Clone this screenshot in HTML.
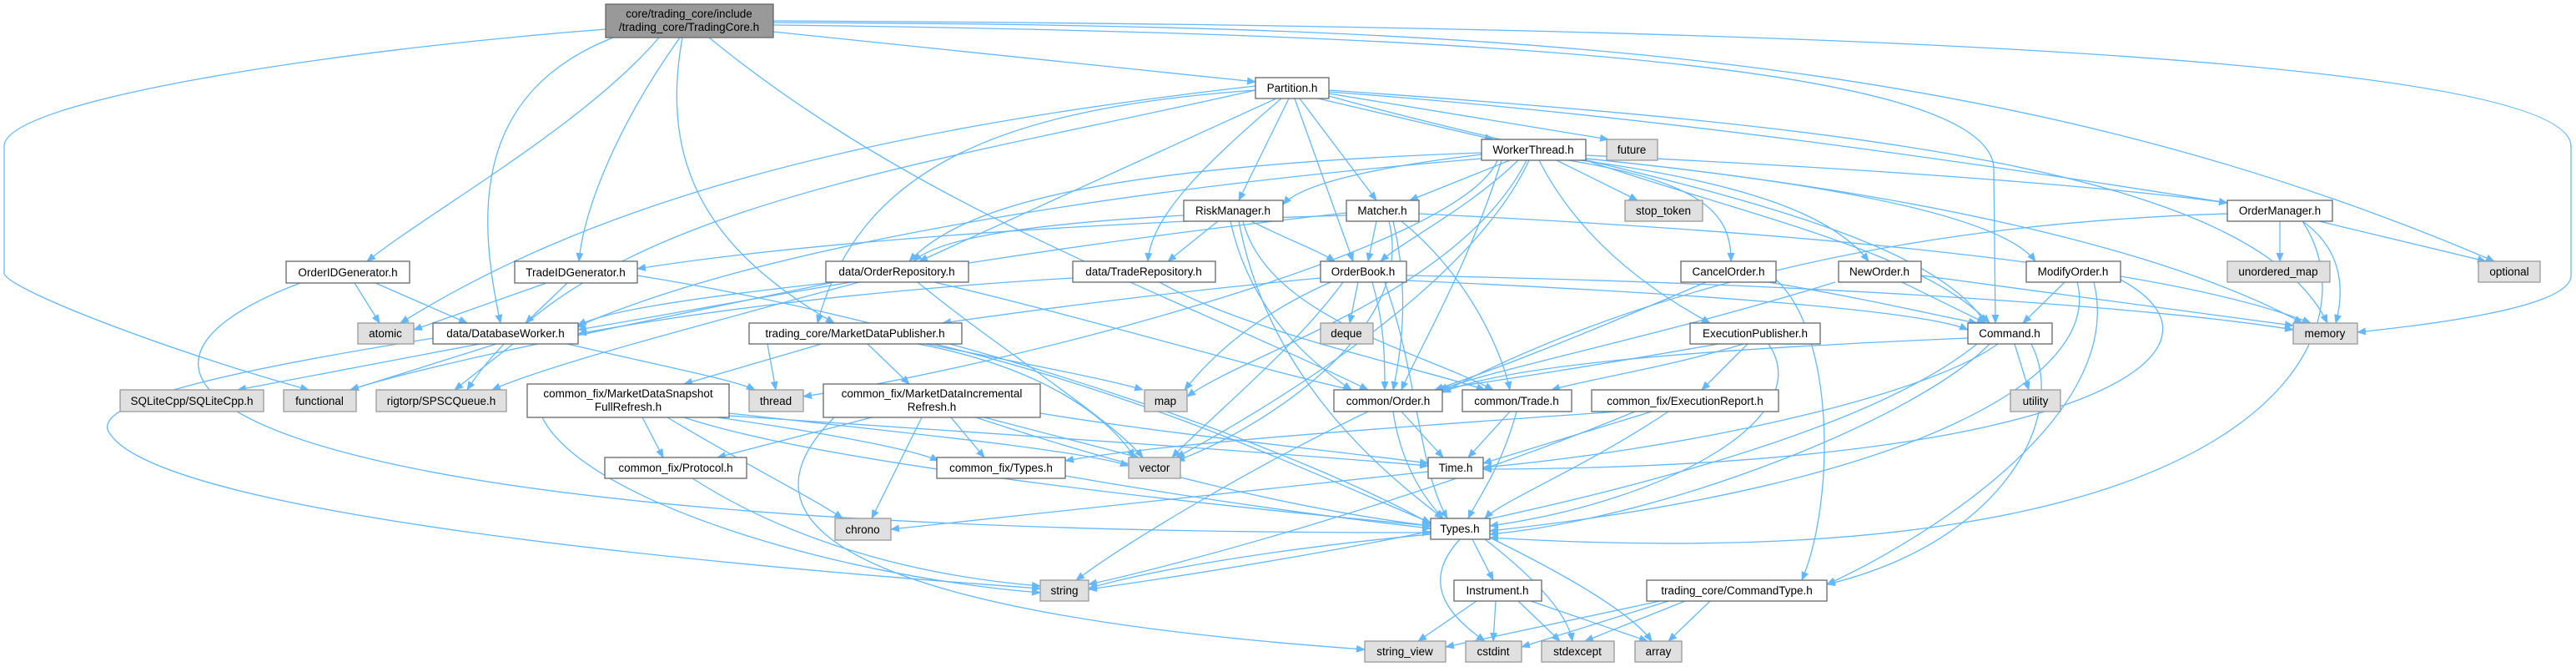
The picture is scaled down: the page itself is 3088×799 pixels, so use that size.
<!DOCTYPE html>
<html><head><meta charset="utf-8"><style>
html,body{margin:0;padding:0;background:#fff;}
svg{display:block;}
text{font-family:"Liberation Sans",sans-serif;font-size:13.5px;fill:#000;}
.e{fill:none;stroke:#63b8ff;stroke-width:1.3;}
.n{fill:#fff;stroke:#666;stroke-width:1.3;}
.g{fill:#e0e0e0;stroke:#999;stroke-width:1.3;}
.t{fill:#999;stroke:#666;stroke-width:1.3;}
</style></head><body>
<svg width="3088" height="799" viewBox="0 0 3088 799" xmlns="http://www.w3.org/2000/svg">
<defs><marker id="a" markerWidth="11" markerHeight="9" refX="10" refY="4.5" orient="auto" markerUnits="userSpaceOnUse"><path d="M0,0 L11,4.5 L0,9 z" fill="#63b8ff"/></marker></defs>
<g class="e" marker-end="url(#a)">
<path d="M726 35 C400 60 5 120 5 175 L5 327 C5 345 200 420 370 467"/>
<path d="M790 45 C700 150 520 250 440 313"/>
<path d="M735 45 C570 110 570 250 600 387"/>
<path d="M815 45 C740 150 700 250 694 313"/>
<path d="M818 45 C790 200 850 300 1000 387"/>
<path d="M850 45 C1100 250 1400 350 1640 467"/>
<path d="M927 38 L1505 98"/>
<path d="M927 30 C1800 40 2380 80 2390 200 L2392 387"/>
<path d="M927 27 C1800 30 2400 60 2990 313"/>
<path d="M927 25 C2000 30 3080 60 3082 175 L3082 330 C3082 370 2900 390 2826 398"/>
<path d="M1580 118 L1790 167"/>
<path d="M1593 112 L1928 167"/>
<path d="M1558 118 L1650 240"/>
<path d="M1552 118 L1622 313"/>
<path d="M1545 118 L1485 240"/>
<path d="M1536 118 C1440 200 1380 260 1376 313"/>
<path d="M1530 118 L1102 313"/>
<path d="M1505 108 C1200 130 1030 200 980 387"/>
<path d="M1505 103 C1000 160 700 250 480 387"/>
<path d="M1505 108 C1100 200 700 250 560 467"/>
<path d="M1593 110 C2000 140 2400 200 2670 243"/>
<path d="M1593 108 C2200 150 2700 200 2790 387"/>
<path d="M1593 115 C1900 200 2300 260 2380 387"/>
<path d="M1776 185 C1650 200 1560 220 1538 245"/>
<path d="M1810 192 L1690 240"/>
<path d="M1820 192 C1760 250 1680 290 1655 313"/>
<path d="M1866 192 L1963 240"/>
<path d="M1880 192 C2050 220 2075 260 2075 313"/>
<path d="M1895 192 C2100 220 2200 260 2240 313"/>
<path d="M1901 190 C2200 220 2400 260 2440 313"/>
<path d="M1901 186 C2200 200 2500 220 2670 243"/>
<path d="M1845 192 C1900 300 2000 360 2050 387"/>
<path d="M1901 190 C2300 230 2600 300 2760 387"/>
<path d="M1901 192 C2100 260 2300 300 2385 387"/>
<path d="M1776 183 C1300 200 1150 250 1090 313"/>
<path d="M1776 190 C1300 230 900 300 690 392"/>
<path d="M1795 192 C1750 300 1200 440 963 475"/>
<path d="M1830 192 C1750 350 1500 420 1423 475"/>
<path d="M1833 192 C1760 350 1500 500 1410 548"/>
<path d="M1800 192 C1760 320 1700 420 1680 467"/>
<path d="M1460 265 L1400 313"/>
<path d="M1419 258 C1200 270 1120 290 1095 313"/>
<path d="M1500 265 C1550 290 1580 300 1600 313"/>
<path d="M1490 265 C1520 380 1700 420 1790 467"/>
<path d="M1485 265 C1520 450 1650 560 1730 621"/>
<path d="M1475 265 C1500 380 1580 440 1620 467"/>
<path d="M1650 265 L1640 313"/>
<path d="M1614 258 C1200 270 900 300 764 322"/>
<path d="M1614 255 C1200 300 900 360 693 395"/>
<path d="M1680 265 C1760 330 1800 420 1810 467"/>
<path d="M1701 256 C2200 280 2600 320 2770 387"/>
<path d="M1665 265 C1700 400 1500 520 1410 552"/>
<path d="M1670 265 C1690 350 1680 420 1670 467"/>
<path d="M1628 338 L1618 387"/>
<path d="M1645 338 C1660 390 1660 430 1660 467"/>
<path d="M1583 333 C1400 350 1250 370 1130 387"/>
<path d="M1686 330 C2200 340 2600 370 2749 395"/>
<path d="M1610 338 C1550 420 1450 500 1405 548"/>
<path d="M1595 338 C1500 380 1450 430 1420 467"/>
<path d="M1660 338 C1700 450 1700 560 1735 621"/>
<path d="M1686 336 C2000 350 2300 370 2359 395"/>
<path d="M1000 338 C800 360 720 375 693 390"/>
<path d="M1120 338 C1300 380 1500 440 1620 467"/>
<path d="M1100 338 C1200 420 1330 500 1370 548"/>
<path d="M1030 338 C800 400 650 440 590 467"/>
<path d="M1000 338 C700 400 500 440 420 467"/>
<path d="M1286 333 C1000 350 800 380 693 400"/>
<path d="M1390 338 C1500 400 1700 440 1780 467"/>
<path d="M425 339 L455 387"/>
<path d="M450 339 L560 387"/>
<path d="M360 339 C40 460 300 640 1715 638"/>
<path d="M655 339 L496 395"/>
<path d="M680 339 L630 387"/>
<path d="M764 330 C1200 400 1600 560 1715 628"/>
<path d="M575 412 L285 467"/>
<path d="M595 412 L420 467"/>
<path d="M615 412 L545 467"/>
<path d="M680 412 C800 440 880 455 905 467"/>
<path d="M520 405 C300 440 100 480 132 520 C200 620 900 680 1247 705"/>
<path d="M985 412 L820 460"/>
<path d="M920 412 L930 467"/>
<path d="M1040 412 L1090 460"/>
<path d="M1110 412 C1250 440 1330 455 1370 467"/>
<path d="M1100 412 C1250 440 1330 500 1360 548"/>
<path d="M1120 412 C1400 480 1600 580 1715 626"/>
<path d="M770 500 L795 548"/>
<path d="M800 500 C900 560 980 600 1010 621"/>
<path d="M860 500 C1000 520 1100 540 1125 552"/>
<path d="M874 495 C1100 520 1300 540 1353 558"/>
<path d="M820 500 C1000 560 1500 610 1715 630"/>
<path d="M874 498 C1200 520 1500 540 1712 558"/>
<path d="M650 500 C700 600 1000 690 1247 710"/>
<path d="M1045 500 L860 548"/>
<path d="M1105 500 L1045 621"/>
<path d="M1140 500 L1180 548"/>
<path d="M1180 500 L1365 548"/>
<path d="M1170 500 C1350 560 1550 610 1715 630"/>
<path d="M1247 495 C1400 520 1600 540 1712 555"/>
<path d="M1000 500 C850 650 1100 740 1636 778"/>
<path d="M830 573 C950 650 1100 690 1247 702"/>
<path d="M1277 570 C1450 600 1600 620 1715 633"/>
<path d="M1680 493 L1730 548"/>
<path d="M1670 493 C1680 560 1710 600 1730 621"/>
<path d="M1640 493 C1500 560 1350 650 1290 695"/>
<path d="M1810 493 L1760 548"/>
<path d="M1818 493 C1800 560 1770 600 1760 621"/>
<path d="M1940 493 C1700 510 1400 530 1277 552"/>
<path d="M1980 493 L1778 555"/>
<path d="M2000 493 C1900 560 1800 600 1780 621"/>
<path d="M1960 493 C1700 600 1400 680 1305 700"/>
<path d="M2060 412 C1900 440 1800 455 1720 467"/>
<path d="M2095 412 L2040 467"/>
<path d="M2090 412 C2000 440 1900 455 1860 467"/>
<path d="M2120 412 C2180 500 2000 600 1786 630"/>
<path d="M2045 338 C1900 400 1800 440 1720 467"/>
<path d="M2120 338 C2250 360 2330 380 2370 387"/>
<path d="M2129 335 C2200 400 2200 600 2160 695"/>
<path d="M2200 338 C2000 400 1800 440 1725 467"/>
<path d="M2280 338 L2380 387"/>
<path d="M2303 330 L2749 390"/>
<path d="M2475 338 L2425 387"/>
<path d="M2490 338 C2520 450 2300 580 1786 636"/>
<path d="M2510 338 C2550 500 2300 650 2190 700"/>
<path d="M2542 335 C2700 420 2500 560 1778 562"/>
<path d="M2415 412 L2432 467"/>
<path d="M2435 412 C2480 500 2400 650 2190 700"/>
<path d="M2385 412 C2300 500 2000 620 1786 640"/>
<path d="M2395 412 C2300 480 2000 540 1778 560"/>
<path d="M2360 405 C2000 420 1800 440 1729 470"/>
<path d="M2370 412 C2200 550 1700 650 1305 706"/>
<path d="M2733 265 L2733 313"/>
<path d="M2780 265 L2980 313"/>
<path d="M2760 265 C2810 300 2810 350 2800 387"/>
<path d="M2760 265 C2850 400 2720 700 1786 644"/>
<path d="M2670 256 C2200 270 1900 380 1729 470"/>
<path d="M1712 565 C1400 600 1200 620 1068 634"/>
<path d="M1765 646 L1790 695"/>
<path d="M1750 646 C1700 700 1740 740 1780 768"/>
<path d="M1780 646 C1850 700 1880 740 1885 768"/>
<path d="M1786 644 C1900 700 1960 740 1980 768"/>
<path d="M1715 640 C1500 660 1350 690 1305 705"/>
<path d="M1770 720 L1700 768"/>
<path d="M1793 720 L1790 768"/>
<path d="M1820 720 L1870 768"/>
<path d="M1835 720 L1975 768"/>
<path d="M1990 720 L1733 775"/>
<path d="M2000 720 L1824 775"/>
<path d="M2020 720 L1900 768"/>
<path d="M2050 720 L2000 768"/>
</g>
<g text-anchor="middle">
<rect class="t" x="726" y="5" width="201" height="40"/><text x="826" y="21">core/trading_core/include</text><text x="826" y="37">/trading_core/TradingCore.h</text>
<rect class="n" x="343" y="313" width="148" height="26"/><text x="417" y="331">OrderIDGenerator.h</text>
<rect class="n" x="617" y="313" width="147" height="26"/><text x="690" y="331">TradeIDGenerator.h</text>
<rect class="g" x="429" y="387" width="67" height="25"/><text x="462" y="404">atomic</text>
<rect class="n" x="519" y="387" width="174" height="25"/><text x="606" y="404">data/DatabaseWorker.h</text>
<rect class="g" x="144" y="467" width="172" height="26"/><text x="230" y="485">SQLiteCpp/SQLiteCpp.h</text>
<rect class="g" x="340" y="467" width="87" height="26"/><text x="383" y="485">functional</text>
<rect class="g" x="451" y="467" width="156" height="26"/><text x="529" y="485">rigtorp/SPSCQueue.h</text>
<rect class="n" x="632" y="460" width="242" height="40"/><text x="753" y="476">common_fix/MarketDataSnapshot</text><text x="753" y="492">FullRefresh.h</text>
<rect class="n" x="725" y="548" width="170" height="25"/><text x="810" y="565">common_fix/Protocol.h</text>
<rect class="n" x="1505" y="93" width="88" height="25"/><text x="1549" y="110">Partition.h</text>
<rect class="n" x="1419" y="240" width="119" height="25"/><text x="1478" y="257">RiskManager.h</text>
<rect class="n" x="990" y="313" width="171" height="25"/><text x="1075" y="330">data/OrderRepository.h</text>
<rect class="n" x="1286" y="313" width="171" height="25"/><text x="1371" y="330">data/TradeRepository.h</text>
<rect class="n" x="898" y="387" width="255" height="25"/><text x="1025" y="404">trading_core/MarketDataPublisher.h</text>
<rect class="g" x="898" y="467" width="65" height="26"/><text x="930" y="485">thread</text>
<rect class="n" x="987" y="460" width="260" height="40"/><text x="1117" y="476">common_fix/MarketDataIncremental</text><text x="1117" y="492">Refresh.h</text>
<rect class="g" x="1372" y="467" width="51" height="26"/><text x="1397" y="485">map</text>
<rect class="n" x="1123" y="548" width="154" height="25"/><text x="1200" y="565">common_fix/Types.h</text>
<rect class="g" x="1353" y="548" width="62" height="25"/><text x="1384" y="565">vector</text>
<rect class="g" x="1001" y="621" width="67" height="26"/><text x="1034" y="639">chrono</text>
<rect class="g" x="1247" y="695" width="58" height="25"/><text x="1276" y="712">string</text>
<rect class="n" x="1776" y="167" width="125" height="25"/><text x="1838" y="184">WorkerThread.h</text>
<rect class="g" x="1926" y="167" width="61" height="25"/><text x="1956" y="184">future</text>
<rect class="n" x="1614" y="240" width="87" height="25"/><text x="1657" y="257">Matcher.h</text>
<rect class="g" x="1948" y="240" width="93" height="25"/><text x="1994" y="257">stop_token</text>
<rect class="n" x="1583" y="313" width="103" height="25"/><text x="1634" y="330">OrderBook.h</text>
<rect class="n" x="2015" y="313" width="114" height="25"/><text x="2072" y="330">CancelOrder.h</text>
<rect class="n" x="2204" y="313" width="99" height="25"/><text x="2253" y="330">NewOrder.h</text>
<rect class="g" x="1583" y="387" width="63" height="25"/><text x="1614" y="404">deque</text>
<rect class="n" x="2026" y="387" width="156" height="25"/><text x="2104" y="404">ExecutionPublisher.h</text>
<rect class="n" x="1599" y="467" width="130" height="26"/><text x="1664" y="485">common/Order.h</text>
<rect class="n" x="1753" y="467" width="131" height="26"/><text x="1818" y="485">common/Trade.h</text>
<rect class="n" x="1908" y="467" width="224" height="26"/><text x="2020" y="485">common_fix/ExecutionReport.h</text>
<rect class="n" x="1712" y="548" width="66" height="25"/><text x="1745" y="565">Time.h</text>
<rect class="n" x="1715" y="621" width="71" height="25"/><text x="1750" y="638">Types.h</text>
<rect class="n" x="1743" y="695" width="105" height="25"/><text x="1795" y="712">Instrument.h</text>
<rect class="n" x="1974" y="695" width="216" height="25"/><text x="2082" y="712">trading_core/CommandType.h</text>
<rect class="g" x="1636" y="768" width="97" height="25"/><text x="1684" y="785">string_view</text>
<rect class="g" x="1757" y="768" width="67" height="25"/><text x="1790" y="785">cstdint</text>
<rect class="g" x="1848" y="768" width="87" height="25"/><text x="1891" y="785">stdexcept</text>
<rect class="g" x="1960" y="768" width="56" height="25"/><text x="1988" y="785">array</text>
<rect class="n" x="2670" y="240" width="126" height="25"/><text x="2733" y="257">OrderManager.h</text>
<rect class="n" x="2429" y="313" width="113" height="25"/><text x="2485" y="330">ModifyOrder.h</text>
<rect class="g" x="2670" y="313" width="123" height="25"/><text x="2731" y="330">unordered_map</text>
<rect class="g" x="2971" y="313" width="74" height="25"/><text x="3008" y="330">optional</text>
<rect class="n" x="2359" y="387" width="101" height="25"/><text x="2409" y="404">Command.h</text>
<rect class="g" x="2749" y="387" width="77" height="25"/><text x="2787" y="404">memory</text>
<rect class="g" x="2410" y="467" width="60" height="26"/><text x="2440" y="485">utility</text>
</g>
</svg>
</body></html>
